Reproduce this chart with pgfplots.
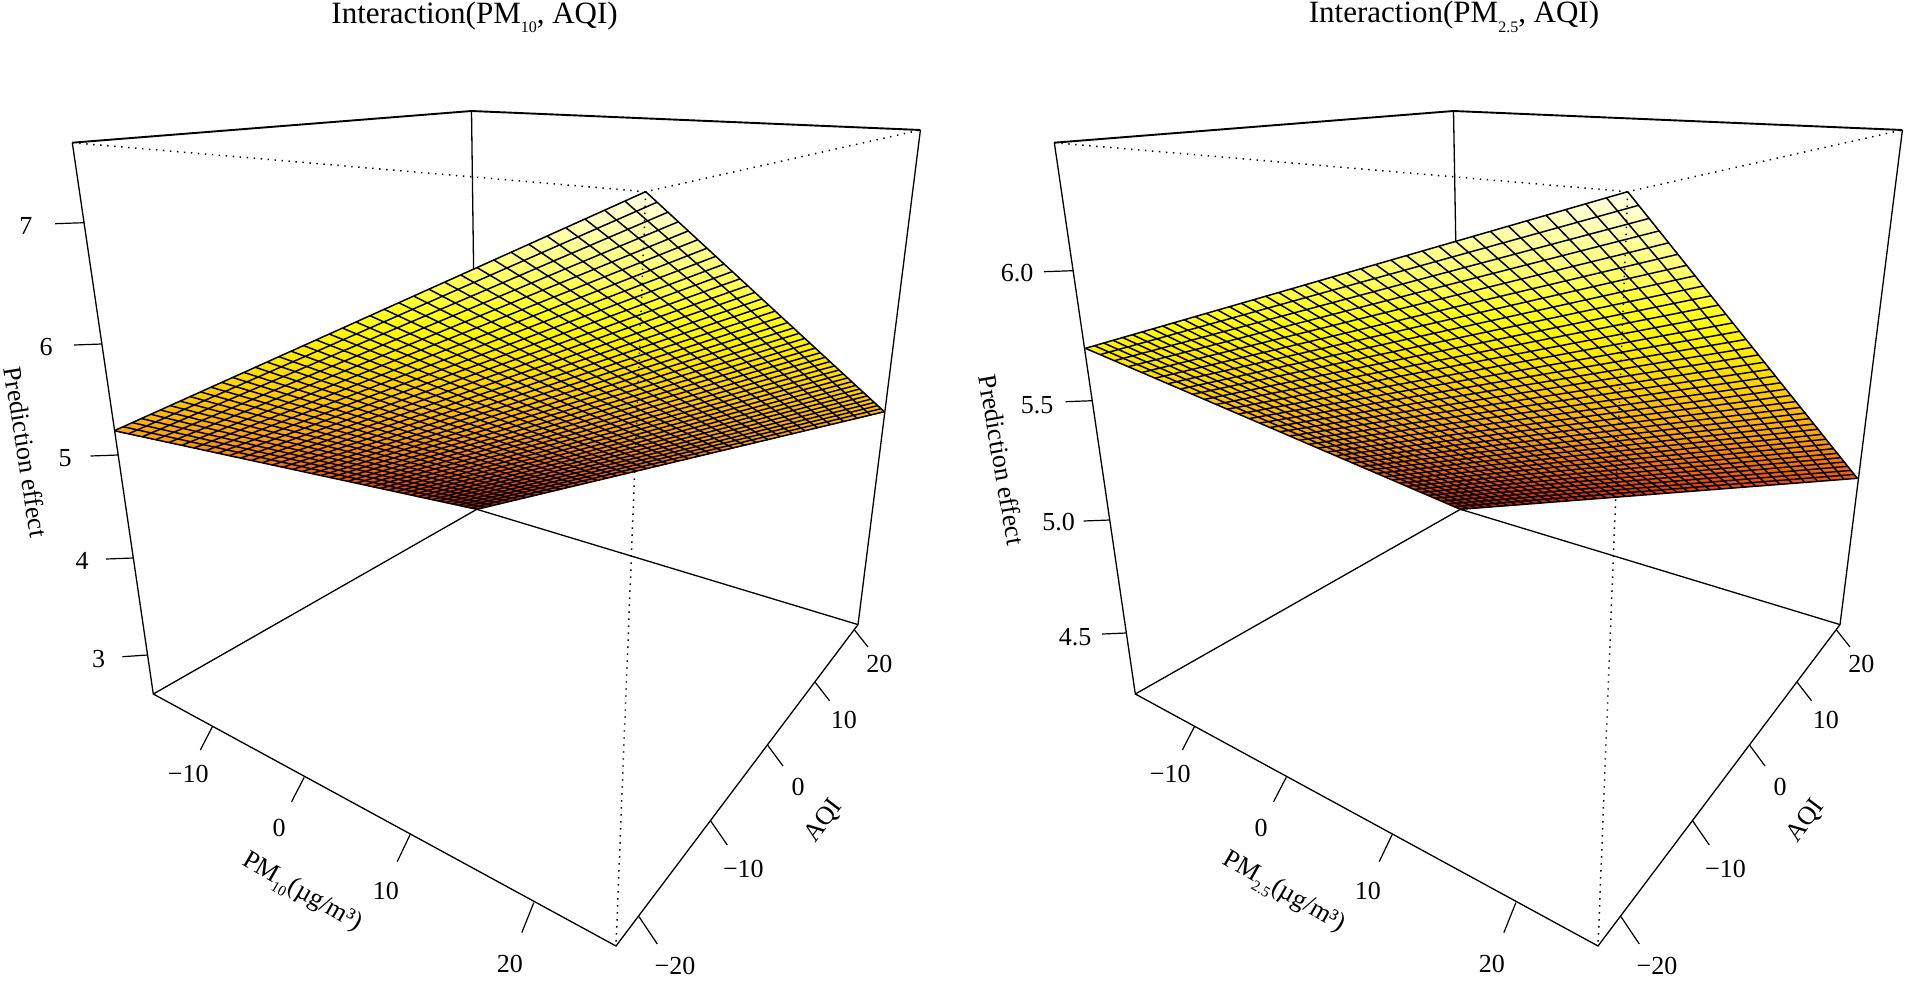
\documentclass[border=0pt]{standalone}
\usepackage{fontspec}
\setmainfont{Liberation Serif}
\usepackage{pgfplots}
\pgfplotsset{compat=1.18}
\pgfplotsset{
  colormap={heat}{
    rgb255(0pt)=(255,255,232) rgb255(40pt)=(255,255,170) rgb255(80pt)=(255,255,110)
    rgb255(120pt)=(255,255,30) rgb255(145pt)=(255,245,0) rgb255(175pt)=(255,225,0)
    rgb255(210pt)=(255,195,10) rgb255(245pt)=(250,160,15) rgb255(280pt)=(240,100,15)
    rgb255(305pt)=(225,50,10) rgb255(317pt)=(190,20,5)
  },
  boxline/.style={black,line width=1.3pt,forget plot,mark=none},
  topline/.style={black,line width=1.9pt,forget plot,mark=none},
  dotline/.style={black,line width=1.5pt,dash pattern=on 1.4pt off 5.6pt,forget plot,mark=none},
  gridline/.style={black,line width=1.5pt,forget plot,mark=none,line join=round},
  tickline/.style={black,line width=1.2pt,forget plot,mark=none},
  filled/.style={patch,patch type=triangle,shader=interp,forget plot,
     point meta=explicit,point meta min=192,point meta max=509},
}
\newcommand{\tl}{\fontsize{26}{30}\selectfont}
\newcommand{\ttl}{\fontsize{31}{36}\selectfont}
\newcommand{\sbA}[1]{\raisebox{-0.3em}{\fontsize{16}{16}\selectfont #1}}
\newcommand{\sbB}[1]{\raisebox{-0.3em}{\fontsize{15}{15}\selectfont #1}}
\begin{document}
\begin{tikzpicture}
\useasboundingbox (0,0) rectangle (1905pt,982pt);
\begin{axis}[scale only axis,width=1905pt,height=982pt,xmin=0,xmax=1905,ymin=0,ymax=982,
  y dir=reverse,hide axis,clip=false,unbounded coords=jump,colormap name=heat]

% ---------- left panel: box behind the surface
\addplot[boxline] coordinates {(471.5,111)(476.8,509.3)};
% surface fill (colour follows height on the page)
\addplot[filled] table[meta=c] {
x y c
645.7 191.7 191.7
884.3 411.7 411.7
476.8 509.3 509.3
645.7 191.7 191.7
476.8 509.3 509.3
114.3 430.7 430.7
};
% grid lines, one family
\addplot[gridline] coordinates {
(645.7,191.7)(114.3,430.7)(nan,nan)
(657.1,202.2)(128.5,433.8)(nan,nan)
(667.9,212.2)(142.3,436.8)(nan,nan)
(678.3,221.8)(155.8,439.7)(nan,nan)
(688.3,230.9)(168.9,442.5)(nan,nan)
(697.8,239.7)(181.6,445.3)(nan,nan)
(707.0,248.2)(194.0,448.0)(nan,nan)
(715.8,256.3)(206.1,450.6)(nan,nan)
(724.2,264.1)(217.9,453.2)(nan,nan)
(732.3,271.6)(229.4,455.6)(nan,nan)
(740.1,278.8)(240.6,458.1)(nan,nan)
(747.7,285.7)(251.5,460.4)(nan,nan)
(754.9,292.4)(262.2,462.8)(nan,nan)
(762.0,298.9)(272.6,465.0)(nan,nan)
(768.7,305.1)(282.8,467.2)(nan,nan)
(775.2,311.1)(292.7,469.4)(nan,nan)
(781.5,316.9)(302.4,471.5)(nan,nan)
(787.6,322.6)(311.9,473.5)(nan,nan)
(793.5,328.0)(321.1,475.5)(nan,nan)
(799.2,333.3)(330.2,477.5)(nan,nan)
(804.8,338.4)(339.1,479.4)(nan,nan)
(810.1,343.3)(347.7,481.3)(nan,nan)
(815.3,348.1)(356.2,483.1)(nan,nan)
(820.4,352.7)(364.5,484.9)(nan,nan)
(825.2,357.3)(372.6,486.7)(nan,nan)
(830.0,361.6)(380.6,488.4)(nan,nan)
(834.6,365.9)(388.4,490.1)(nan,nan)
(839.1,370.0)(396.0,491.8)(nan,nan)
(843.4,374.0)(403.5,493.4)(nan,nan)
(847.7,377.9)(410.8,495.0)(nan,nan)
(851.8,381.7)(418.0,496.6)(nan,nan)
(855.8,385.4)(425.1,498.1)(nan,nan)
(859.7,389.0)(432.0,499.6)(nan,nan)
(863.5,392.5)(438.7,501.0)(nan,nan)
(867.2,395.9)(445.4,502.5)(nan,nan)
(870.8,399.2)(451.9,503.9)(nan,nan)
(874.3,402.5)(458.3,505.3)(nan,nan)
(877.7,405.6)(464.6,506.6)(nan,nan)
(881.0,408.7)(470.7,508.0)(nan,nan)
(884.3,411.7)(476.8,509.3)
};
% grid lines, other family
\addplot[gridline] coordinates {
(645.7,191.7)(884.3,411.7)(nan,nan)
(624.9,201.1)(870.5,415.0)(nan,nan)
(604.6,210.2)(857.0,418.2)(nan,nan)
(584.9,219.0)(843.6,421.4)(nan,nan)
(565.7,227.7)(830.5,424.6)(nan,nan)
(547.1,236.1)(817.6,427.7)(nan,nan)
(528.8,244.3)(805.0,430.7)(nan,nan)
(511.1,252.2)(792.5,433.7)(nan,nan)
(493.9,260.0)(780.2,436.6)(nan,nan)
(477.0,267.6)(768.1,439.5)(nan,nan)
(460.6,274.9)(756.2,442.4)(nan,nan)
(444.6,282.2)(744.4,445.2)(nan,nan)
(428.9,289.2)(732.9,448.0)(nan,nan)
(413.7,296.1)(721.5,450.7)(nan,nan)
(398.8,302.8)(710.3,453.4)(nan,nan)
(384.2,309.3)(699.3,456.0)(nan,nan)
(370.0,315.7)(688.5,458.6)(nan,nan)
(356.1,322.0)(677.8,461.2)(nan,nan)
(342.5,328.1)(667.2,463.7)(nan,nan)
(329.2,334.0)(656.8,466.2)(nan,nan)
(316.2,339.9)(646.6,468.6)(nan,nan)
(303.5,345.6)(636.5,471.1)(nan,nan)
(291.1,351.2)(626.6,473.4)(nan,nan)
(278.9,356.7)(616.7,475.8)(nan,nan)
(267.0,362.0)(607.1,478.1)(nan,nan)
(255.3,367.3)(597.5,480.4)(nan,nan)
(243.9,372.4)(588.1,482.6)(nan,nan)
(232.7,377.5)(578.9,484.9)(nan,nan)
(221.7,382.4)(569.7,487.0)(nan,nan)
(211.0,387.2)(560.7,489.2)(nan,nan)
(200.5,391.9)(551.8,491.3)(nan,nan)
(190.1,396.6)(543.0,493.4)(nan,nan)
(180.0,401.1)(534.3,495.5)(nan,nan)
(170.1,405.6)(525.8,497.6)(nan,nan)
(160.4,410.0)(517.4,499.6)(nan,nan)
(150.8,414.3)(509.0,501.6)(nan,nan)
(141.4,418.5)(500.8,503.5)(nan,nan)
(132.2,422.6)(492.7,505.5)(nan,nan)
(123.2,426.7)(484.7,507.4)(nan,nan)
(114.3,430.7)(476.8,509.3)
};
% box
\addplot[dotline] coordinates {(72.3,142.7)(645.7,191.7)(920.4,130)};
\addplot[dotline] coordinates {(645.7,191.7)(616,946)};
\addplot[topline] coordinates {(72.3,142.7)(471.5,111)(920.4,130)};
\addplot[boxline] coordinates {(72.3,142.7)(153.3,694)(616,946)(858,624.6)(920.4,130)};
\addplot[boxline] coordinates {(153.3,694)(476.8,509.3)(858,624.6)};
% ticks
\addplot[tickline] coordinates {
(55.1,223.7)(84.1,222.7)(nan,nan)(74,345)(101.9,344)(nan,nan)(90.5,456)(118.2,455)(nan,nan)
(106,559)(133.3,558)(nan,nan)(122.3,656.7)(147.5,655)(nan,nan)
(212.4,726.7)(200.3,750)(nan,nan)(304.2,777.3)(291.6,801.7)(nan,nan)
(410.4,834)(397.2,861.7)(nan,nan)(533.8,902.7)(521.8,932.7)(nan,nan)
(639,916.7)(657.3,944)(nan,nan)(710.7,821)(727.3,845)(nan,nan)
(767.5,745)(783,766)(nan,nan)(815.2,682.3)(829.5,700.7)(nan,nan)
(854.5,630)(868,647)
};
\node[font=\ttl] at (axis cs:474.6,17) {Interaction(PM\sbA{10}, AQI)};
\node[font=\tl] at (axis cs:26,226) {7};
\node[font=\tl] at (axis cs:46,347) {6};
\node[font=\tl] at (axis cs:65,458) {5};
\node[font=\tl] at (axis cs:82,561) {4};
\node[font=\tl] at (axis cs:98.7,659) {3};
\node[font=\tl,rotate=-81] at (axis cs:26,452) {Prediction effect};
\node[font=\tl] at (axis cs:188.3,774.3) {−10};
\node[font=\tl] at (axis cs:279,827.7) {0};
\node[font=\tl] at (axis cs:385.8,890.7) {10};
\node[font=\tl] at (axis cs:509.8,964.3) {20};
\node[font=\tl] at (axis cs:675,966) {−20};
\node[font=\tl] at (axis cs:743.4,869) {−10};
\node[font=\tl] at (axis cs:798,786.7) {0};
\node[font=\tl] at (axis cs:843.9,720) {10};
\node[font=\tl] at (axis cs:879.4,664.3) {20};
\node[font=\tl,rotate=-30] at (axis cs:301.4,893.3) {PM\sbB{10}(µg/m³)};
\node[font=\tl,rotate=53] at (axis cs:823.8,821) {AQI};

% ---------- right panel
\addplot[boxline] coordinates {(1453.5,111)(1460.4,509.3)};
\addplot[filled] table[meta=c] {
x y c
1627.7 191.7 191.7
1857.3 478.3 478.3
1460.4 509.3 509.3
1627.7 191.7 191.7
1460.4 509.3 509.3
1085.4 348.3 348.3
};
\addplot[gridline] coordinates {
(1627.7,191.7)(1085.4,348.3)(nan,nan)
(1638.6,205.3)(1100.1,354.6)(nan,nan)
(1649.1,218.4)(1114.4,360.7)(nan,nan)
(1659.1,230.9)(1128.3,366.7)(nan,nan)
(1668.7,242.8)(1141.8,372.5)(nan,nan)
(1677.8,254.3)(1155.0,378.2)(nan,nan)
(1686.7,265.3)(1167.9,383.7)(nan,nan)
(1695.1,275.8)(1180.4,389.1)(nan,nan)
(1703.2,286.0)(1192.5,394.3)(nan,nan)
(1711.1,295.8)(1204.4,399.4)(nan,nan)
(1718.6,305.1)(1216.0,404.4)(nan,nan)
(1725.8,314.2)(1227.3,409.2)(nan,nan)
(1732.8,322.9)(1238.4,414.0)(nan,nan)
(1739.6,331.3)(1249.1,418.6)(nan,nan)
(1746.1,339.4)(1259.7,423.1)(nan,nan)
(1752.4,347.3)(1269.9,427.5)(nan,nan)
(1758.4,354.9)(1279.9,431.8)(nan,nan)
(1764.3,362.2)(1289.8,436.0)(nan,nan)
(1770.0,369.3)(1299.4,440.2)(nan,nan)
(1775.5,376.1)(1308.7,444.2)(nan,nan)
(1780.8,382.8)(1317.9,448.1)(nan,nan)
(1785.9,389.2)(1326.9,452.0)(nan,nan)
(1790.9,395.4)(1335.6,455.7)(nan,nan)
(1795.8,401.5)(1344.2,459.4)(nan,nan)
(1800.5,407.4)(1352.6,463.0)(nan,nan)
(1805.0,413.1)(1360.9,466.6)(nan,nan)
(1809.5,418.6)(1368.9,470.0)(nan,nan)
(1813.8,424.0)(1376.9,473.4)(nan,nan)
(1818.0,429.2)(1384.6,476.7)(nan,nan)
(1822.0,434.3)(1392.2,480.0)(nan,nan)
(1826.0,439.2)(1399.6,483.2)(nan,nan)
(1829.8,444.0)(1406.9,486.3)(nan,nan)
(1833.6,448.7)(1414.0,489.4)(nan,nan)
(1837.3,453.3)(1421.0,492.4)(nan,nan)
(1840.8,457.7)(1427.9,495.3)(nan,nan)
(1844.3,462.0)(1434.6,498.2)(nan,nan)
(1847.7,466.3)(1441.3,501.1)(nan,nan)
(1850.9,470.4)(1447.8,503.9)(nan,nan)
(1854.2,474.4)(1454.1,506.6)(nan,nan)
(1857.3,478.3)(1460.4,509.3)
};
\addplot[gridline] coordinates {
(1627.7,191.7)(1857.3,478.3)(nan,nan)
(1606.4,197.8)(1843.9,479.3)(nan,nan)
(1585.8,203.8)(1830.7,480.4)(nan,nan)
(1565.7,209.6)(1817.7,481.4)(nan,nan)
(1546.1,215.3)(1805.0,482.4)(nan,nan)
(1527.0,220.8)(1792.4,483.4)(nan,nan)
(1508.4,226.1)(1780.0,484.3)(nan,nan)
(1490.4,231.4)(1767.8,485.3)(nan,nan)
(1472.8,236.4)(1755.9,486.2)(nan,nan)
(1455.6,241.4)(1744.1,487.1)(nan,nan)
(1438.8,246.2)(1732.5,488.0)(nan,nan)
(1422.4,251.0)(1721.1,488.9)(nan,nan)
(1406.5,255.6)(1709.9,489.8)(nan,nan)
(1390.9,260.1)(1698.8,490.7)(nan,nan)
(1375.7,264.5)(1687.9,491.5)(nan,nan)
(1360.8,268.8)(1677.2,492.4)(nan,nan)
(1346.4,272.9)(1666.6,493.2)(nan,nan)
(1332.1,277.0)(1656.2,494.0)(nan,nan)
(1318.3,281.1)(1645.9,494.8)(nan,nan)
(1304.7,285.0)(1635.7,495.6)(nan,nan)
(1291.5,288.8)(1625.8,496.4)(nan,nan)
(1278.5,292.5)(1615.9,497.2)(nan,nan)
(1265.8,296.2)(1606.2,497.9)(nan,nan)
(1253.4,299.8)(1596.7,498.7)(nan,nan)
(1241.3,303.3)(1587.3,499.4)(nan,nan)
(1229.3,306.7)(1578.0,500.1)(nan,nan)
(1217.7,310.1)(1568.8,500.8)(nan,nan)
(1206.2,313.4)(1559.8,501.5)(nan,nan)
(1195.1,316.6)(1550.9,502.2)(nan,nan)
(1184.1,319.8)(1542.1,502.9)(nan,nan)
(1173.4,322.9)(1533.4,503.6)(nan,nan)
(1162.8,326.0)(1524.9,504.3)(nan,nan)
(1152.5,328.9)(1516.4,504.9)(nan,nan)
(1142.3,331.9)(1508.1,505.6)(nan,nan)
(1132.4,334.7)(1499.9,506.2)(nan,nan)
(1122.6,337.5)(1491.8,506.9)(nan,nan)
(1113.0,340.3)(1483.8,507.5)(nan,nan)
(1103.7,343.0)(1475.9,508.1)(nan,nan)
(1094.4,345.7)(1468.1,508.7)(nan,nan)
(1085.4,348.3)(1460.4,509.3)
};
\addplot[dotline] coordinates {(1054.3,142.7)(1627.7,191.7)(1902.4,130)};
\addplot[dotline] coordinates {(1627.7,191.7)(1598,946)};
\addplot[topline] coordinates {(1054.3,142.7)(1453.5,111)(1902.4,130)};
\addplot[boxline] coordinates {(1054.3,142.7)(1135.3,694)(1598,946)(1840,624.6)(1902.4,130)};
\addplot[boxline] coordinates {(1135.3,694)(1460.4,509.3)(1840,624.6)};
\addplot[tickline] coordinates {
(1044,271.7)(1073.1,270.7)(nan,nan)(1065.7,401.7)(1092.2,400.7)(nan,nan)
(1083.6,521)(1109.8,520)(nan,nan)(1102,634)(1126.4,633)(nan,nan)
(1194.4,726.7)(1182.3,750)(nan,nan)(1286.2,777.3)(1273.6,801.7)(nan,nan)
(1392.4,834)(1379.2,861.7)(nan,nan)(1515.8,902.7)(1503.8,932.7)(nan,nan)
(1621,916.7)(1639.3,944)(nan,nan)(1692.7,821)(1709.3,845)(nan,nan)
(1749.5,745)(1765,766)(nan,nan)(1797.2,682.3)(1811.5,700.7)(nan,nan)
(1836.5,630)(1850,647)
};
\node[font=\ttl] at (axis cs:1454,17) {Interaction(PM\sbA{2.5}, AQI)};
\node[font=\tl] at (axis cs:1017,273) {6.0};
\node[font=\tl] at (axis cs:1037,405) {5.5};
\node[font=\tl] at (axis cs:1058.6,522) {5.0};
\node[font=\tl] at (axis cs:1075,637) {4.5};
\node[font=\tl,rotate=-80] at (axis cs:1002,460) {Prediction effect};
\node[font=\tl] at (axis cs:1170.3,774.3) {−10};
\node[font=\tl] at (axis cs:1261,827.7) {0};
\node[font=\tl] at (axis cs:1367.8,890.7) {10};
\node[font=\tl] at (axis cs:1491.8,964.3) {20};
\node[font=\tl] at (axis cs:1657,966) {−20};
\node[font=\tl] at (axis cs:1725.4,869) {−10};
\node[font=\tl] at (axis cs:1780,786.7) {0};
\node[font=\tl] at (axis cs:1825.9,720) {10};
\node[font=\tl] at (axis cs:1861.4,664.3) {20};
\node[font=\tl,rotate=-30] at (axis cs:1283.4,893.3) {PM\sbB{2.5}(µg/m³)};
\node[font=\tl,rotate=53] at (axis cs:1805.8,821) {AQI};
\end{axis}
\end{tikzpicture}
\end{document}
